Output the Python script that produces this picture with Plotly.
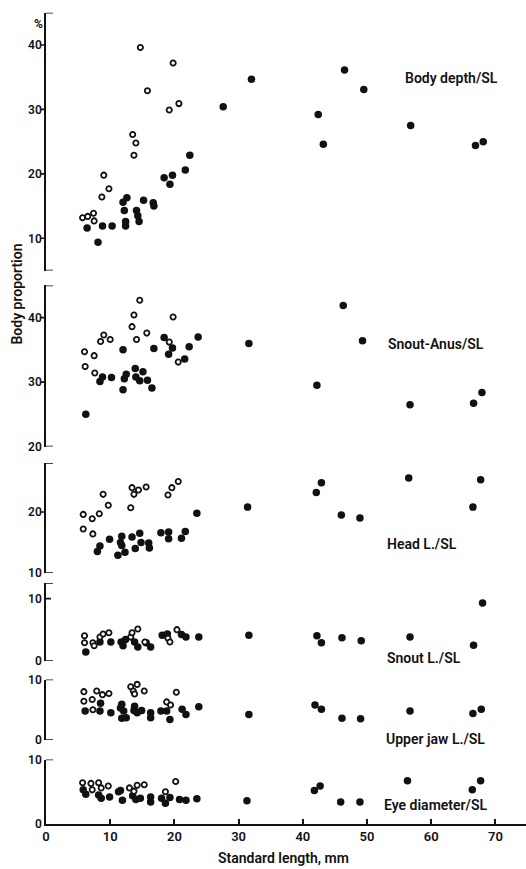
import plotly.graph_objects as go

# ---------------- data (standard length mm, proportion %) ----------------
depth_open_sl = [5.7, 6.5, 7.4, 7.5, 8.7, 9.0, 9.8, 13.5, 13.7, 14.0, 14.7, 15.8, 19.2, 19.8, 20.7]
depth_open_val = [13.2, 13.4, 13.9, 12.7, 16.4, 19.8, 17.7, 26.1, 22.9, 24.8, 39.6, 32.9, 29.9, 37.2, 30.9]
depth_fill_sl = [6.4, 8.1, 8.8, 10.3, 12.0, 12.6, 12.2, 12.4, 12.4, 14.1, 14.3, 14.5, 15.2, 16.7, 16.8,
                 18.4, 19.3, 19.7, 21.7, 22.4, 27.6, 32.0, 42.4, 43.2, 46.5, 49.5, 56.8, 66.9, 68.1]
depth_fill_val = [11.6, 9.4, 11.9, 11.9, 15.6, 16.3, 14.3, 12.6, 11.9, 14.3, 13.5, 12.6, 15.9, 15.5, 15.0,
                  19.4, 18.4, 19.8, 20.6, 22.9, 30.4, 34.7, 29.2, 24.6, 36.1, 33.1, 27.5, 24.4, 25.0]

anus_open_sl = [6.0, 6.1, 7.5, 7.6, 8.5, 9.0, 10.0, 13.4, 13.7, 14.1, 14.6, 15.7, 19.2, 19.8, 20.6]
anus_open_val = [34.7, 32.4, 34.1, 31.4, 36.3, 37.3, 36.6, 38.6, 40.4, 36.6, 42.7, 37.6, 36.2, 40.1, 33.1]
anus_fill_sl = [6.2, 8.4, 8.8, 10.2, 12.0, 12.0, 12.2, 12.5, 13.9, 14.0, 14.6, 15.1, 15.8, 16.5, 16.8,
                18.4, 19.1, 19.7, 21.6, 22.3, 23.7, 31.6, 42.2, 46.3, 49.3, 56.7, 66.6, 67.9]
anus_fill_val = [25.0, 30.1, 30.8, 30.7, 35.0, 28.8, 30.5, 31.2, 32.1, 30.8, 30.2, 31.6, 30.3, 29.1, 35.2,
                 36.9, 34.3, 35.3, 33.6, 35.5, 37.0, 36.0, 29.5, 41.9, 36.4, 26.5, 26.7, 28.4]

head_open_sl = [5.8, 5.8, 7.2, 7.3, 8.3, 8.9, 9.7, 13.2, 13.4, 13.7, 14.4, 15.6, 19.0, 19.6, 20.6]
head_open_val = [19.6, 17.2, 18.9, 16.4, 19.7, 22.9, 21.1, 20.7, 24.0, 22.9, 23.6, 24.1, 22.8, 24.0, 25.0]
head_fill_sl = [8.0, 8.4, 9.9, 11.2, 11.6, 11.8, 11.8, 12.3, 13.4, 13.9, 14.6, 14.8, 16.0, 16.1, 17.9,
                19.1, 19.1, 21.1, 21.7, 23.5, 31.4, 42.1, 42.9, 46.0, 48.9, 56.5, 66.5, 67.7]
head_fill_val = [13.5, 14.4, 15.5, 12.9, 15.0, 16.0, 14.5, 13.4, 15.9, 14.0, 16.5, 15.0, 14.9, 14.1, 16.6,
                 16.7, 15.6, 15.7, 16.8, 19.8, 20.8, 23.2, 24.8, 19.5, 19.0, 25.6, 20.8, 25.3]

snout_open_sl = [6.0, 6.0, 7.3, 7.5, 8.4, 8.9, 9.8, 13.2, 13.4, 14.3, 15.4, 19.0, 19.3, 20.4]
snout_open_val = [4.0, 2.9, 2.9, 2.4, 3.8, 4.3, 4.5, 3.8, 4.5, 5.1, 3.0, 3.6, 3.0, 5.0]
snout_fill_sl = [6.2, 8.4, 10.1, 11.7, 12.0, 12.4, 13.8, 14.3, 15.6, 16.3, 18.1, 18.9, 21.1, 21.8, 23.8,
                 31.6, 42.2, 42.9, 46.1, 49.1, 56.7, 66.6, 68.0]
snout_fill_val = [1.4, 3.0, 3.0, 3.0, 2.4, 3.4, 3.0, 2.2, 2.9, 2.2, 4.1, 4.3, 4.2, 3.8, 3.8,
                  4.1, 4.0, 2.9, 3.7, 3.2, 3.8, 2.5, 9.3]

jaw_open_sl = [5.9, 5.9, 7.2, 7.3, 7.9, 8.8, 9.8, 13.2, 13.6, 13.8, 14.2, 15.3, 18.8, 19.4, 20.3]
jaw_open_val = [8.0, 6.4, 6.7, 5.0, 8.1, 7.5, 7.7, 8.8, 8.1, 7.6, 9.2, 8.1, 6.3, 5.8, 7.9]
jaw_fill_sl = [6.1, 8.4, 8.5, 10.1, 11.6, 11.8, 11.8, 12.5, 12.1, 13.8, 13.7, 14.2, 14.9, 16.3, 16.3,
               17.9, 18.8, 19.3, 21.2, 21.8, 23.8, 31.6, 41.9, 42.9, 46.1, 49.0, 56.7, 66.5, 67.8]
jaw_fill_val = [4.8, 4.8, 6.1, 4.5, 5.3, 5.9, 3.6, 3.7, 4.8, 5.6, 4.9, 4.5, 4.9, 4.5, 3.7,
                4.8, 4.8, 3.4, 5.1, 4.2, 5.5, 4.2, 5.8, 5.1, 3.6, 3.5, 4.8, 4.4, 5.1]

eye_open_sl = [5.7, 7.0, 7.2, 8.2, 8.6, 9.7, 13.0, 13.7, 14.2, 15.3, 18.6, 20.2]
eye_open_val = [6.4, 6.3, 5.3, 6.4, 5.6, 5.9, 5.6, 5.1, 6.0, 6.1, 5.0, 6.6]
eye_fill_sl = [5.8, 6.2, 8.2, 8.6, 9.9, 11.3, 11.6, 11.9, 13.5, 14.0, 14.7, 16.3, 16.3, 18.0, 18.6,
               19.3, 20.8, 21.8, 23.5, 31.3, 41.8, 42.7, 45.9, 48.9, 56.3, 66.4, 67.7]
eye_fill_val = [5.3, 4.6, 4.5, 4.0, 4.2, 5.0, 5.2, 3.7, 4.4, 3.8, 4.0, 4.2, 3.4, 4.0, 3.2,
                4.1, 3.8, 3.7, 3.9, 3.6, 5.2, 5.9, 3.4, 3.4, 6.7, 5.3, 6.7]

panel_labels = ["Body depth/SL", "Snout-Anus/SL", "Head L./SL", "Snout L./SL", "Upper jaw L./SL", "Eye diameter/SL"]
panel_ranges = [[5, 45], [20, 45], [10, 28], [0, 12.5], [0, 10], [0, 10]]
panel_tickvals = [[10, 20, 30, 40], [20, 30, 40], [10, 20], [0, 10], [0, 10], [0, 10]]
x_tickvals = [0, 10, 20, 30, 40, 50, 60, 70]

# ---------------- layout geometry ----------------
W, H = 526, 869
ML, MB = 46, 45
PH = H - MB          # plot area height in px
PW = W - ML
X_RANGE = [0, PW / 6.42]

# pixel rows of (bottom, top) of each panel axis
panel_px = [(265.8, 5.8), (443.3, 280.8), (570.7, 460.2), (659.3, 581.0), (739.3, 678.3), (824.0, 759.0)]
# inward (right) or outward (left) interior ticks per panel
inner_ticks = [([10, 20, 30, 40], "out"), ([30, 40], "out"), ([20], "out"), ([10], "in"), ([], "out"), ([], "out")]
# label anchor (sl, value)
label_pos = [(55.6, 34.8), (52.9, 35.9), (52.8, 14.7), (52.8, 0.4), (52.6, 0.2), (52.4, 2.9)]

series = [
    (depth_open_sl, depth_open_val, depth_fill_sl, depth_fill_val),
    (anus_open_sl, anus_open_val, anus_fill_sl, anus_fill_val),
    (head_open_sl, head_open_val, head_fill_sl, head_fill_val),
    (snout_open_sl, snout_open_val, snout_fill_sl, snout_fill_val),
    (jaw_open_sl, jaw_open_val, jaw_fill_sl, jaw_fill_val),
    (eye_open_sl, eye_open_val, eye_fill_sl, eye_fill_val),
]

FONT = "Roboto"
INK = "#111111"
WT = 600

fig = go.Figure()
shapes = []
annotations = []
cap = 7 / PW
tk = 5 / PW

for i, (osl, oval, fsl, fval) in enumerate(series):
    yname = "y" if i == 0 else f"y{i+1}"
    fig.add_trace(go.Scatter(x=fsl, y=fval, mode="markers", xaxis="x", yaxis=yname,
                             marker=dict(symbol="circle", size=7.5, color=INK, line=dict(width=0)),
                             showlegend=False, hoverinfo="x+y"))
    fig.add_trace(go.Scatter(x=osl, y=oval, mode="markers", xaxis="x", yaxis=yname,
                             marker=dict(symbol="circle", size=5.3, color="white", line=dict(width=1.8, color=INK)),
                             showlegend=False, hoverinfo="x+y"))
    bot, top = panel_px[i]
    dom = [(PH - bot) / PH, (PH - top) / PH]
    key = "yaxis" if i == 0 else f"yaxis{i+1}"
    fig.layout[key] = dict(domain=dom, range=panel_ranges[i], anchor="x", showline=True,
                           linewidth=1.6, linecolor=INK, ticks="", tickvals=panel_tickvals[i],
                           showgrid=False, zeroline=False,
                           tickfont=dict(family=FONT, size=12, color=INK, weight=WT))
    lo, hi = panel_ranges[i]
    caps = [hi] if i == 5 else [lo, hi]
    for v in caps:
        shapes.append(dict(type="line", xref="x domain", yref=yname, x0=0, x1=cap, y0=v, y1=v,
                           line=dict(color=INK, width=1.6)))
    vals, d = inner_ticks[i]
    for v in vals:
        x0, x1 = (-tk, 0) if d == "out" else (0, tk)
        shapes.append(dict(type="line", xref="x domain", yref=yname, x0=x0, x1=x1, y0=v, y1=v,
                           line=dict(color=INK, width=1.6)))
    lx, ly = label_pos[i]
    annotations.append(dict(text=panel_labels[i], x=lx, y=ly, xref="x", yref=yname,
                            xanchor="left", yanchor="middle", showarrow=False,
                            font=dict(family=FONT, size=14, color=INK, weight=WT)))

annotations.append(dict(text="%", x=(38 - ML) / PW, y=(PH - 17) / PH, xref="paper", yref="paper",
                        xanchor="center", yanchor="middle", showarrow=False,
                        font=dict(family=FONT, size=12, color=INK, weight=700)))
annotations.append(dict(text="Body proportion", x=(17 - ML) / PW, y=(PH - 290) / PH, xref="paper", yref="paper",
                        xanchor="center", yanchor="middle", textangle=-90, showarrow=False,
                        font=dict(family=FONT, size=14, color=INK, weight=WT)))
annotations.append(dict(text="Standard length, mm", x=(283 - ML) / PW, y=(PH - 858) / PH, xref="paper", yref="paper",
                        xanchor="center", yanchor="middle", showarrow=False,
                        font=dict(family=FONT, size=14, color=INK, weight=WT)))

fig.update_layout(
    width=W, height=H,
    margin=dict(l=ML, r=0, t=0, b=MB, pad=0),
    paper_bgcolor="white", plot_bgcolor="white",
    xaxis=dict(range=X_RANGE, domain=[0, 1], anchor="y6", showline=True, linewidth=1.6, linecolor=INK,
               ticks="inside", ticklen=5, tickwidth=1.6, tickcolor=INK, tickvals=x_tickvals,
               showgrid=False, zeroline=False,
               tickfont=dict(family=FONT, size=13, color=INK, weight=WT)),
    shapes=shapes, annotations=annotations, showlegend=False,
)

fig.write_html("out.html")
